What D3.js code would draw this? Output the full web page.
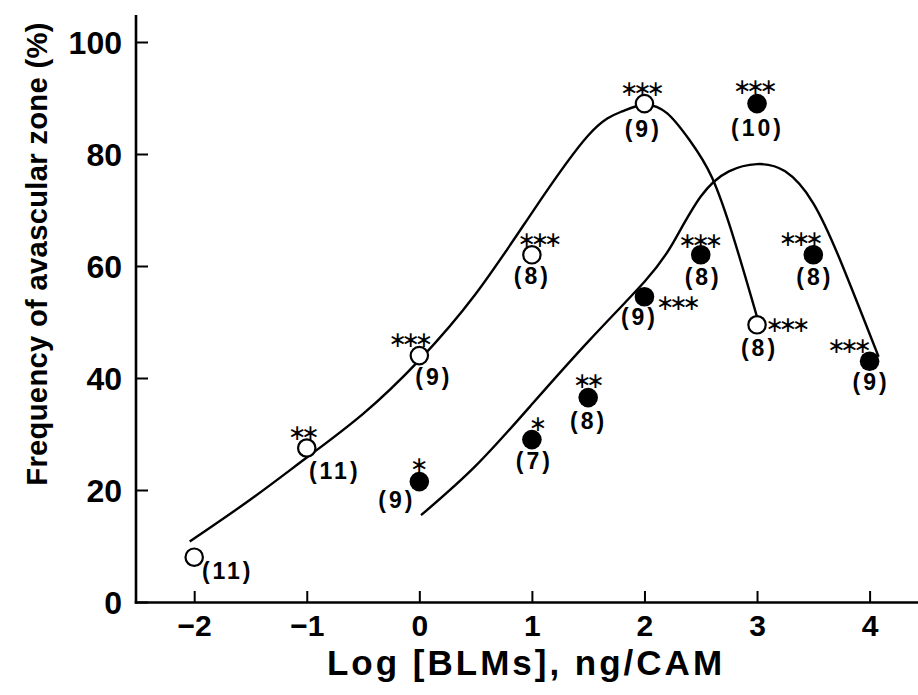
<!DOCTYPE html>
<html>
<head>
<meta charset="utf-8">
<script src="https://cdn.jsdelivr.net/npm/d3@7"></script>
<style>
  html, body { margin: 0; padding: 0; background: #fff; }
  svg { display: block; }
  text { font-family: "Liberation Sans", Arial, Helvetica, sans-serif; font-weight: bold; fill: #000; }
</style>
</head>
<body>
<svg id="chart" width="918" height="695"></svg>
<script>
// ---- Data ----
const xTicks = [-2, -1, 0, 1, 2, 3, 4];
const yTicks = [0, 20, 40, 60, 80, 100];

// Open circles
const openX = [-2, -1, 0, 1, 2, 3];
const openY = [8, 27.5, 44, 62, 89, 49.5];
const openN = ["(11)", "(11)", "(9)", "(8)", "(9)", "(8)"];
const openStars = ["", "∗∗", "∗∗∗", "∗∗∗", "∗∗∗", "∗∗∗"];

// Filled circles
const filledX = [0, 1, 1.5, 2, 2.5, 3, 3.5, 4];
const filledY = [21.5, 29, 36.5, 54.5, 62, 89, 62, 43];
const filledN = ["(9)", "(7)", "(8)", "(9)", "(8)", "(10)", "(8)", "(9)"];
const filledStars = ["∗", "∗", "∗∗", "∗∗∗", "∗∗∗", "∗∗∗", "∗∗∗", "∗∗∗"];

// Fitted curves
const curveOpenX = [-2.04, -1.5, -1.0, -0.5, 0.0, 0.5, 1.0, 1.5, 1.8, 2.0, 2.2, 2.4, 2.6, 2.8, 3.0];
const curveOpenY = [10.8, 18.3, 25.8, 33.6, 43.2, 55.0, 69.5, 83.3, 87.6, 88.8, 87.3, 82.5, 75.8, 64.5, 50.9];
const curveFilledX = [0.015, 0.5, 1.0, 1.5, 2.0, 2.25, 2.5, 2.75, 3.0, 3.25, 3.5, 3.75, 4.08];
const curveFilledY = [15.5, 24.3, 35.3, 46.5, 57.2, 64.0, 72.4, 76.9, 78.2, 76.9, 71.2, 60.5, 43.8];

const xTitle = "Log [BLMs], ng/CAM";
const yTitle = "Frequency of avascular zone (%)";

// ---- Layout (label offsets in px relative to the marker) ----
const openStarOff = [null, [-3, -15.5], [-8.5, -15.7], [8, -15], [-2, -15.3], [31, 0]];
const openNOff = [[32, 16], [26.5, 25], [13, 23], [-1, 23.5], [-2.7, 27], [1, 25]];
const filledStarOff = [[0, -17], [6, -16], [0.7, -17], [34, 5.5], [0, -14], [-1.5, -17], [-12, -16.5], [-20, -15]];
const filledNOff = [[-24, 20], [1, 23], [-1, 25], [-6.5, 22], [1, 24], [-1, 26], [0, 24], [0, 23]];

const FONT = '"Liberation Sans", Arial, Helvetica, sans-serif';
const svg = d3.select("#chart");
const x = d3.scaleLinear().domain([-2.517, 4.43]).range([136, 918]);
const y = d3.scaleLinear().domain([0, 100]).range([602, 42]);

// Axes
const yAxis = d3.axisLeft(y).tickValues(yTicks).tickSize(-12).tickPadding(14).tickFormat(d3.format("d"));
const gy = svg.append("g").attr("transform", "translate(136,0)").call(yAxis);
gy.select(".domain").remove();
gy.selectAll(".tick line").attr("stroke", "#000").attr("stroke-width", 2);
gy.selectAll(".tick text").attr("font-size", 32).attr("dy", "0.36em")
  .style("font-family", FONT).style("font-weight", "bold");

const xAxis = d3.axisBottom(x).tickValues(xTicks).tickSize(-11).tickPadding(13).tickFormat(d3.format("d"));
const gx = svg.append("g").attr("transform", "translate(0,602)").call(xAxis);
gx.select(".domain").remove();
gx.selectAll(".tick line").attr("stroke", "#000").attr("stroke-width", 2);
gx.selectAll(".tick text").attr("font-size", 30)
  .style("font-family", FONT).style("font-weight", "bold");

// Axis lines
svg.append("line").attr("x1", 136).attr("x2", 136).attr("y1", 15).attr("y2", 603.5)
  .attr("stroke", "#000").attr("stroke-width", 2.6);
svg.append("line").attr("x1", 134.7).attr("x2", 918).attr("y1", 602.5).attr("y2", 602.5)
  .attr("stroke", "#000").attr("stroke-width", 2.6);

// Titles
svg.append("text").attr("x", 526).attr("y", 675).attr("text-anchor", "middle")
  .attr("font-size", 35).style("letter-spacing", "3px").text(xTitle);
svg.append("text").attr("transform", "translate(47,254) rotate(-90)").attr("text-anchor", "middle")
  .attr("font-size", 29.2).style("letter-spacing", "0.3px").text(yTitle);

// Curves
const line = d3.line().x(d => x(d[0])).y(d => y(d[1])).curve(d3.curveNatural);
svg.append("path").datum(d3.zip(curveOpenX, curveOpenY)).attr("d", line)
  .attr("fill", "none").attr("stroke", "#000").attr("stroke-width", 2.4);
svg.append("path").datum(d3.zip(curveFilledX, curveFilledY)).attr("d", line)
  .attr("fill", "none").attr("stroke", "#000").attr("stroke-width", 2.4);

// Markers
const openData = openX.map((v, i) => ({ x: v, y: openY[i], n: openN[i], s: openStars[i], so: openStarOff[i], no: openNOff[i] }));
const filledData = filledX.map((v, i) => ({ x: v, y: filledY[i], n: filledN[i], s: filledStars[i], so: filledStarOff[i], no: filledNOff[i] }));

svg.append("g").selectAll("circle").data(openData).join("circle")
  .attr("cx", d => x(d.x)).attr("cy", d => y(d.y)).attr("r", 8.7)
  .attr("fill", "#fff").attr("stroke", "#000").attr("stroke-width", 2.2);
svg.append("g").selectAll("circle").data(filledData).join("circle")
  .attr("cx", d => x(d.x)).attr("cy", d => y(d.y)).attr("r", 9.8)
  .attr("fill", "#000");

// Labels
const all = openData.concat(filledData);
const STAR_FS = 22, STAR_LS = -5.2, N_FS = 23;
svg.append("g").selectAll("text").data(all.filter(d => d.s)).join("text")
  .attr("x", d => x(d.x) + d.so[0] + STAR_LS / 2).attr("y", d => y(d.y) + d.so[1] + 0.33 * STAR_FS)
  .attr("text-anchor", "middle").attr("font-size", STAR_FS)
  .style("font-family", '"DejaVu Sans", sans-serif').style("font-weight", "normal")
  .style("letter-spacing", STAR_LS + "px")
  .text(d => d.s);
svg.append("g").selectAll("text").data(all).join("text")
  .attr("x", d => x(d.x) + d.no[0] + 1.5).attr("y", d => y(d.y) + d.no[1] + 0.26 * N_FS)
  .attr("text-anchor", "middle").attr("font-size", N_FS)
  .style("letter-spacing", "3px")
  .text(d => d.n);
</script>
</body>
</html>
